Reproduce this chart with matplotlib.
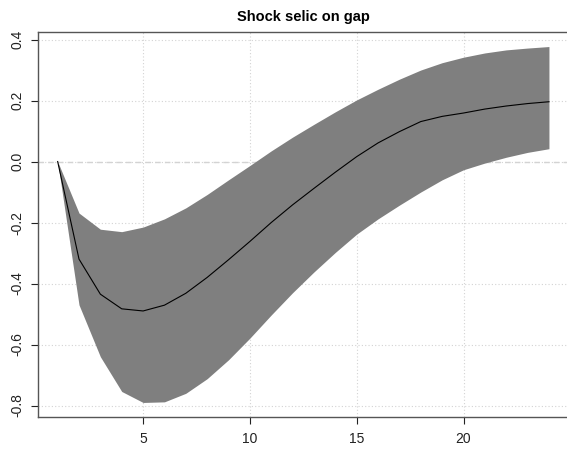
"""
Impulse response of the output gap to a selic shock, with its error band.
"""

import matplotlib.pyplot as plt
import numpy as np

# Horizon steps
horizon = list(range(1, 25))

# Median response
median = [0.0, -0.32, -0.435, -0.483, -0.49, -0.471, -0.432, -0.38, -0.322,
          -0.262, -0.2, -0.142, -0.088, -0.035, 0.016, 0.061, 0.098, 0.131,
          0.148, 0.159, 0.172, 0.182, 0.19, 0.196]

# Upper and lower error band
upper = [0.0, -0.169, -0.222, -0.23, -0.215, -0.188, -0.152, -0.108, -0.06,
         -0.013, 0.035, 0.08, 0.122, 0.163, 0.202, 0.237, 0.27, 0.3, 0.324,
         0.342, 0.356, 0.366, 0.372, 0.377]
lower = [0.0, -0.47, -0.64, -0.754, -0.79, -0.788, -0.76, -0.712, -0.65,
         -0.579, -0.503, -0.43, -0.362, -0.298, -0.238, -0.188, -0.143,
         -0.1, -0.06, -0.027, -0.005, 0.014, 0.03, 0.042]

yticks = [-0.8, -0.6, -0.4, -0.2, 0.0, 0.2, 0.4]
xticks = [5, 10, 15, 20]

plt.rcParams["font.family"] = ["Liberation Sans", "DejaVu Sans"]

fig = plt.figure(figsize=(5.67, 4.5), dpi=100)
ax = fig.add_axes([38 / 567, 33.3 / 450, 530.6 / 567, 384.4 / 450])

x = np.array(horizon)
# R-style 4% axis extension
xr = x.max() - x.min()
ax.set_xlim(x.min() - 0.04 * xr, x.max() + 0.04 * xr)
ymin, ymax = min(lower), max(upper)
yr = ymax - ymin
ax.set_ylim(ymin - 0.04 * yr, ymax + 0.04 * yr)

# Grid and zero line
for t in xticks:
    ax.axvline(t, color="#d3d3d3", linestyle=(0, (1, 2)), linewidth=0.8, zorder=0)
for t in yticks:
    ax.axhline(t, color="#d3d3d3", linestyle=(0, (1, 2)), linewidth=0.8, zorder=0)
ax.axhline(0, color="#d3d3d3", linestyle=(0, (4, 3)), linewidth=1.0, zorder=0)

ax.fill_between(x, lower, upper, color="#7f7f7f", linewidth=0, zorder=1)
ax.plot(x, median, color="black", linewidth=0.8, zorder=2)

ax.set_xticks(xticks)
ax.set_xticklabels([str(t) for t in xticks])
ax.set_yticks(yticks)
ax.set_yticklabels([f"{t:.1f}" for t in yticks], rotation=90, va="center")
ax.tick_params(direction="out", length=5, width=0.8, labelsize=10,
               colors="#222222", pad=6)
ax.tick_params(axis="y", pad=5)

for side in ["left", "bottom", "top", "right"]:
    ax.spines[side].set_color("#555555")
    ax.spines[side].set_linewidth(1.0)

ax.set_title("Shock selic on gap", fontsize=10.5, fontweight="bold", pad=8)

fig.savefig("out.png", dpi=100)
